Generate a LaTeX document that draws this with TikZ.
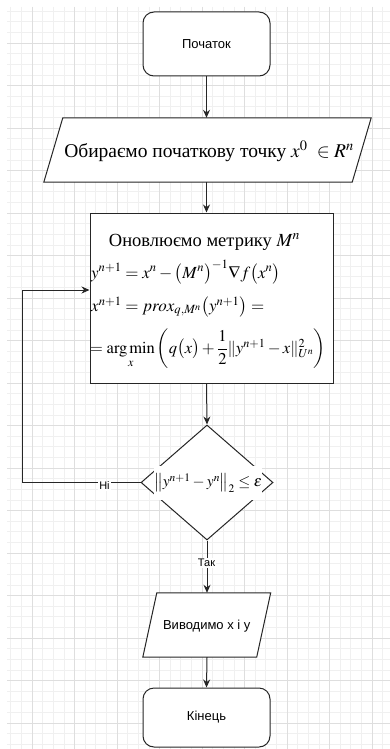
\documentclass[tikz,border=0pt]{standalone}
\usepackage{amsmath}
\usepackage{mathptmx}
\usepackage{fontspec}
\setmainfont{Liberation Serif}
\newfontfamily\lsans{Liberation Sans}
\usetikzlibrary{shapes.geometric,arrows.meta,calc}
\tikzset{
  minorgrid/.style={draw=black!6,line width=0.6pt},
  majorgrid/.style={draw=black!13,line width=0.8pt},
  term/.style={draw=black!85,line width=1pt,rounded corners=11pt,fill=white,
    minimum width=127pt,minimum height=64pt,inner sep=0pt,
    font=\lsans\fontsize{13}{15}\selectfont},
  proc/.style={draw=black!85,line width=1pt,fill=white,
    minimum width=243pt,minimum height=170pt,inner sep=0pt},
  iotxt/.style={inner sep=0pt,minimum height=64pt},
  seriftxt/.style={inner sep=0pt,font=\fontsize{17}{19}\selectfont},
  arr/.style={-{Stealth[length=8pt,width=7pt]},line width=1pt,black!85},
  lbl/.style={fill=white,inner sep=1pt,font=\lsans\fontsize{11}{13}\selectfont},
  shp/.style={draw=black!85,line width=1pt,fill=white}
}
\begin{document}
\begin{tikzpicture}[x=1pt,y=-1pt]
\useasboundingbox (0,0) rectangle (390,749);
\fill[white] (0,0) rectangle (390,749);
% grid
\foreach \i in {0,...,35} \draw[minorgrid] ({10.75+10.625*\i},7) -- ({10.75+10.625*\i},749);
\foreach \i in {0,...,69} \draw[minorgrid] (7,{11.125+10.625*\i}) -- (390,{11.125+10.625*\i});
\foreach \i in {0,...,8} \draw[majorgrid] ({32+42.5*\i},7) -- ({32+42.5*\i},749);
\foreach \i in {0,...,16} \draw[majorgrid] (7,{43+42.5*\i}) -- (390,{43+42.5*\i});

% start
\node[term] (start) at (206.5,44) {Початок};

% input parallelogram
\node[iotxt,minimum width=308pt] (in) at (207.5,150) {};
\draw[shp] ($(in.south west)+(-9.5,0)$) -- ($(in.north west)+(9.5,0)$)
  -- ($(in.north east)+(9.5,0)$) -- ($(in.south east)+(-9.5,0)$) -- cycle;
\node[seriftxt,font=\fontsize{19.5}{21}\selectfont] (intxt) at (209,151) {Обираємо початкову точку $x^{0}\ \in R^{n}$};

% process box
\node[proc] (box) at (211.5,298) {};
\node[seriftxt,font=\fontsize{18.5}{20}\selectfont] (t0) at (204.5,242) {Оновлюємо метрику $M^{n}$};
\node[seriftxt,anchor=west] (t1) at (91,272) {$y^{n+1}=x^{n}-\bigl(M^{n}\bigr)^{-1}\nabla f\bigl(x^{n}\bigr)$};
\node[seriftxt,anchor=west] (t2) at (91,307) {$x^{n+1}=prox_{q,M^{n}}\bigl(y^{n+1}\bigr)=$};
\node[seriftxt,anchor=west,font=\fontsize{16.5}{18}\selectfont] (t3) at (90,349) {$=\operatorname*{arg\,min}\limits_{x}\left(q\bigl(x\bigr)+\dfrac{1}{2}\|y^{n+1}-x\|_{U^{n}}^{2}\right)$};

% decision
\node[diamond,shp,minimum width=132pt,minimum height=115pt,inner sep=0pt] (dec) at (207,482.5) {};
\node[seriftxt,fill=white,minimum width=104pt,minimum height=34pt,inner sep=0pt,font=\fontsize{15.5}{17}\selectfont] (dectxt) at (208,483) {$\bigl\|y^{n+1}-y^{n}\bigr\|_{2}\le\varepsilon$};

% output parallelogram
\node[iotxt,minimum width=113.5pt] (out) at (206.75,625) {};
\draw[shp] ($(out.south west)+(-7,0)$) -- ($(out.north west)+(7,0)$)
  -- ($(out.north east)+(7,0)$) -- ($(out.south east)+(-7,0)$) -- cycle;
\node[inner sep=0pt,font=\lsans\fontsize{13}{15}\selectfont] (outtxt) at (206.75,626) {Виводимо x і y};

% end
\node[term,minimum height=59pt] (end) at (206.5,717.5) {Кінець};

% connectors
\draw[arr] (start.south) -- (start.south |- in.north);
\draw[arr] (start.south |- in.south) -- (start.south |- box.north);
\draw[arr] (start.south |- box.south) -- (dec.north);
\draw[arr] (dec.south) -- (dec.south |- out.north);
\draw[arr] (dec.south |- out.south) -- (end.north);
\coordinate (fb) at (22,290);
\draw[arr] (dec.west) -| (fb) -- (fb -| box.west);
\node[lbl] (no) at (104.5,486) {Ні};
\node[lbl] (yes) at (206.5,563) {Так};
\end{tikzpicture}
\end{document}
